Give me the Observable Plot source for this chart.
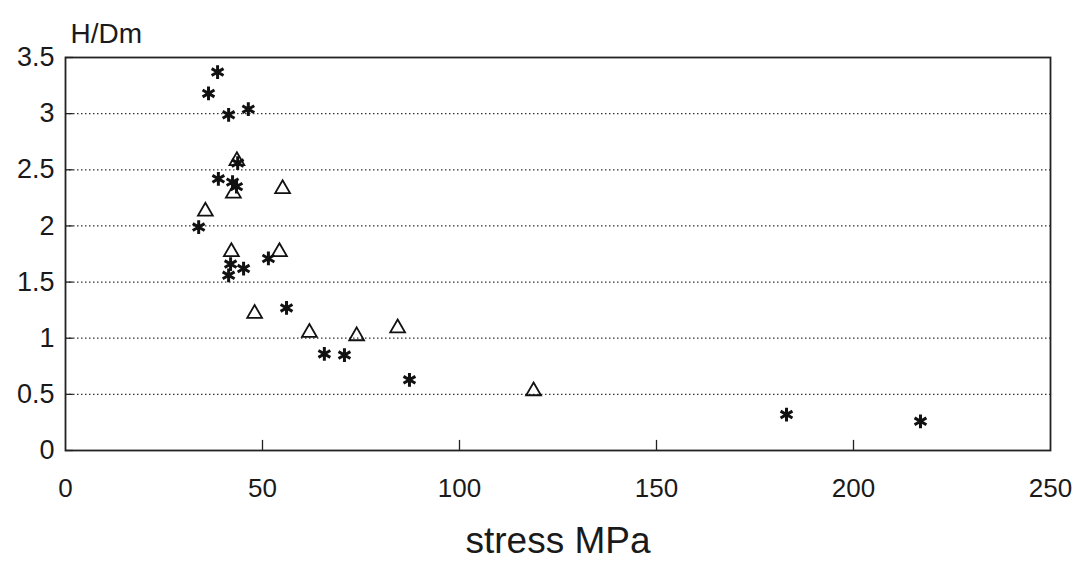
<!DOCTYPE html>
<html><head><meta charset="utf-8">
<script src="https://cdn.jsdelivr.net/npm/d3@7"></script>
<script src="https://cdn.jsdelivr.net/npm/@observablehq/plot@0.6"></script>
<style>body{margin:0;background:#fff}</style>
</head><body><div id="chart"></div>
<script>
// Series "*" (asterisks)
const starStress = [38.6, 36.3, 41.4, 46.4, 43.7, 38.8, 42.4, 43.4, 33.8, 41.9, 45.2, 41.4, 51.5, 56.1, 65.7, 70.8, 87.3, 183, 217];
const starHD     = [3.37, 3.18, 2.99, 3.04, 2.56, 2.42, 2.39, 2.35, 1.99, 1.66, 1.62, 1.56, 1.71, 1.27, 0.86, 0.85, 0.63, 0.32, 0.26];
// Series "triangle"
const triStress = [43.5, 42.6, 55.1, 35.5, 42.1, 54.3, 48.0, 61.9, 73.9, 84.3, 118.8];
const triHD     = [2.58, 2.29, 2.33, 2.13, 1.77, 1.77, 1.22, 1.05, 1.02, 1.09, 0.53];
// Axes
const xTicks = [0, 50, 100, 150, 200, 250];
const xInnerTicks = [50, 100, 150, 200];
const yTicks = [0, 0.5, 1, 1.5, 2, 2.5, 3, 3.5];
const yGrid = [0.5, 1, 1.5, 2, 2.5, 3];
const xLabel = "stress MPa";
const yLabel = "H/Dm";

const stars = starStress.map((s, i) => ({stress: s, hd: starHD[i]}));
const tris = triStress.map((s, i) => ({stress: s, hd: triHD[i]}));

const chart = Plot.plot({
  width: 1077, height: 562,
  marginLeft: 65, marginRight: 27, marginTop: 57, marginBottom: 112,
  style: {fontFamily: "'Liberation Sans', Arial, sans-serif", background: "#fff", color: "#1a1a1a"},
  x: {domain: [0, 250]},
  y: {domain: [0, 3.5]},
  marks: [
    Plot.ruleY(yGrid, {stroke: "#333", strokeDasharray: "1.5,2.5", strokeWidth: 1.2}),
    Plot.frame({stroke: "#222", strokeWidth: 1.8}),
    Plot.ruleY(yTicks, {x1: 0, x2: 2, stroke: "#222", strokeWidth: 1.3}),
    Plot.ruleX(xInnerTicks, {y1: 0, y2: 0.09, stroke: "#222", strokeWidth: 1.3}),
    Plot.axisY(yTicks, {tickSize: 0, tickPadding: 11, fontSize: 27, tickFormat: d => String(d), label: null}),
    Plot.axisX(xTicks, {tickSize: 0, tickPadding: 28, fontSize: 26, tickFormat: d => String(d), label: null}),
    Plot.text([xLabel], {frameAnchor: "bottom", lineAnchor: "bottom", dy: 102, fontSize: 37, fill: "#1a1a1a"}),
    Plot.text([yLabel], {frameAnchor: "top-left", textAnchor: "start", lineAnchor: "bottom", dx: 5, dy: -15, fontSize: 28, fill: "#1a1a1a"}),
    Plot.dot(tris, {x: "stress", y: "hd", symbol: "triangle", r: 5.5, stroke: "#111", strokeWidth: 1.8, fill: "none"}),
    Plot.dot(stars, {x: "stress", y: "hd", symbol: "asterisk", r: 6.5, stroke: "#111", strokeWidth: 3})
  ]
});
document.getElementById("chart").append(chart);
</script>
</body></html>
